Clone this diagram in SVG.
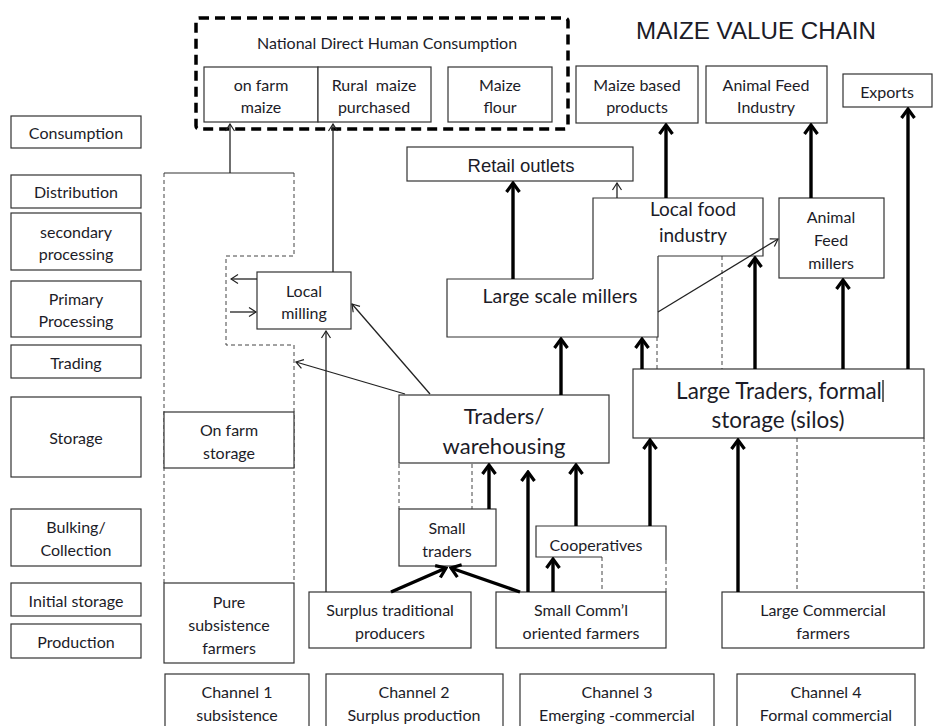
<svg xmlns="http://www.w3.org/2000/svg" width="938" height="726" viewBox="0 0 938 726">
  <style>
    .box { fill: #fff; stroke: #333; stroke-width: 1.2; }
    .edge { fill: none; stroke: #333; stroke-width: 1.2; }
    .dash { fill: none; stroke: #444; stroke-width: 1; stroke-dasharray: 4 3; }
    .t { font-family: Lato, "Open Sans", sans-serif; font-size: 16px; fill: #1c1c28; text-anchor: middle; dominant-baseline: central; }
    .t19 { font-size: 19px; }
    .t195 { font-size: 19.5px; }
    .t22 { font-size: 22px; }
    .t225 { font-size: 22.5px; }
    .thick { fill: none; stroke: #000; stroke-width: 3.4; marker-end: url(#ah-thick); }
    .thin { fill: none; stroke: #222; stroke-width: 1.3; marker-end: url(#ah-thin); }
  </style>
  <defs>
    <marker id="ah-thick" viewBox="-12 -9 14 18" refX="0" refY="0" markerWidth="14" markerHeight="18" orient="auto" markerUnits="userSpaceOnUse">
      <path d="M-9,-6.5 L0,0 L-9,6.5" fill="none" stroke="#000" stroke-width="3.2"/>
    </marker>
    <marker id="ah-thin" viewBox="-9 -6 10 12" refX="0" refY="0" markerWidth="10" markerHeight="12" orient="auto" markerUnits="userSpaceOnUse">
      <path d="M-7,-4.5 L0,0 L-7,4.5" fill="none" stroke="#222" stroke-width="1.2"/>
    </marker>
  </defs>

  <rect width="938" height="726" fill="#fff"/>

  <!-- stage labels -->
  <g id="stages">
    <g id="stage-consumption"><rect class="box" x="11" y="116" width="130" height="32"/><text class="t" x="76" y="132">Consumption</text></g>
    <g id="stage-distribution"><rect class="box" x="11" y="175" width="130" height="33"/><text class="t" x="76" y="191">Distribution</text></g>
    <g id="stage-secondary"><rect class="box" x="11" y="213" width="130" height="57"/><text class="t" x="76" y="231">secondary</text><text class="t" x="76" y="253">processing</text></g>
    <g id="stage-primary"><rect class="box" x="11" y="281" width="130" height="56"/><text class="t" x="76" y="298">Primary</text><text class="t" x="76" y="320">Processing</text></g>
    <g id="stage-trading"><rect class="box" x="11" y="345" width="130" height="33"/><text class="t" x="76" y="362">Trading</text></g>
    <g id="stage-storage"><rect class="box" x="11" y="397" width="130" height="80"/><text class="t" x="76" y="437">Storage</text></g>
    <g id="stage-bulking"><rect class="box" x="11" y="509" width="130" height="57"/><text class="t" x="76" y="526">Bulking/</text><text class="t" x="76" y="549">Collection</text></g>
    <g id="stage-initial"><rect class="box" x="11" y="583" width="130" height="33"/><text class="t" x="76" y="600">Initial storage</text></g>
    <g id="stage-production"><rect class="box" x="11" y="624" width="130" height="34"/><text class="t" x="76" y="641">Production</text></g>
  </g>

  <!-- title -->
  <text x="756" y="31" font-family="'Liberation Sans', Arial, sans-serif" font-size="23.5" fill="#1c1c28" text-anchor="middle" dominant-baseline="central" textLength="240" lengthAdjust="spacingAndGlyphs">MAIZE VALUE CHAIN</text>

  <!-- channel 1 outline (subsistence) -->
  <g id="channel1-outline">
    <path class="dash" d="M164,173 V583"/>
    <path class="dash" d="M294,173 V256 H226 V345 H294 V583"/>
    <path class="edge" d="M164,173 H294"/>
  </g>

  <!-- dashed links between stacked boxes -->
  <g id="dashed-links">
    <path class="dash" d="M399,464 V509 M472,464 V509"/>
    <path class="dash" d="M602,557 V592 M666,560 V592"/>
    <path class="dash" d="M657,337 V369 M722,256 V369"/>
    <path class="dash" d="M797,438 V592 M924,438 V592"/>
  </g>

  <!-- consumption block -->
  <g id="national-consumption">
    <rect x="196" y="18" width="372" height="111" rx="3" fill="none" stroke="#000" stroke-width="3.5" stroke-dasharray="10 6"/>
    <text class="t" x="387" y="42">National Direct Human Consumption</text>
  </g>
  <g id="on-farm-maize"><rect class="box" x="204" y="67" width="114" height="55"/><text class="t" x="261" y="84">on farm</text><text class="t" x="261" y="106">maize</text></g>
  <g id="rural-maize"><rect class="box" x="318" y="67" width="113" height="55"/><text class="t" x="374" y="84" xml:space="preserve">Rural  maize</text><text class="t" x="374" y="106">purchased</text></g>
  <g id="maize-flour"><rect class="box" x="448" y="67" width="104" height="55"/><text class="t" x="500" y="84">Maize</text><text class="t" x="500" y="106">flour</text></g>
  <g id="maize-products"><rect class="box" x="576" y="66" width="122" height="57"/><text class="t" x="637" y="84">Maize based</text><text class="t" x="637" y="106">products</text></g>
  <g id="animal-feed-industry"><rect class="box" x="706" y="66" width="121" height="57"/><text class="t" x="766" y="84">Animal Feed</text><text class="t" x="766" y="106">Industry</text></g>
  <g id="exports"><rect class="box" x="843" y="74" width="89" height="33"/><text class="t" x="887" y="91">Exports</text></g>

  <!-- processing -->
  <g id="retail-outlets"><rect class="box" x="407" y="147" width="226" height="34"/><text x="521" y="165" font-family="'Liberation Sans', Arial, sans-serif" font-size="18.5" fill="#1c1c28" text-anchor="middle" dominant-baseline="central">Retail outlets</text></g>
  <g id="local-food-industry">
    <path d="M593,279 V198 H763 V256 H658 V279 Z" fill="#fff"/>
    <path class="edge" d="M593,279 V198 H763 V256 H658"/>
    <text class="t t19" x="693" y="208">Local food</text>
    <text class="t t19" x="693" y="234">industry</text>
  </g>
  <g id="large-scale-millers">
    <path class="edge" d="M593,279 H447 V337 H658 V256"/>
    <text class="t t195" x="560" y="295">Large scale millers</text>
  </g>
  <g id="animal-feed-millers"><rect class="box" x="779" y="198" width="105" height="80"/><text class="t" x="831" y="216">Animal</text><text class="t" x="831" y="239">Feed</text><text class="t" x="831" y="262">millers</text></g>
  <g id="local-milling"><rect class="box" x="257" y="272" width="94" height="57"/><text class="t" x="304" y="290">Local</text><text class="t" x="304" y="312">milling</text></g>

  <!-- storage / trading -->
  <g id="large-traders">
    <rect class="box" x="633" y="369" width="291" height="69"/>
    <text class="t t225" x="779" y="390">Large Traders, formal</text>
    <text class="t t225" x="778" y="419">storage (silos)</text>
    <line x1="883" y1="380" x2="883" y2="402" stroke="#000" stroke-width="1.2"/>
  </g>
  <g id="traders-warehousing"><rect class="box" x="399" y="395" width="210" height="68"/><text class="t t22" x="504" y="415">Traders/</text><text class="t t22" x="504" y="445">warehousing</text></g>
  <g id="on-farm-storage"><rect class="box" x="164" y="412" width="130" height="56"/><text class="t" x="229" y="429">On farm</text><text class="t" x="229" y="452">storage</text></g>
  <g id="small-traders"><rect class="box" x="399" y="509" width="97" height="57"/><text class="t" x="447" y="527">Small</text><text class="t" x="447" y="550">traders</text></g>
  <g id="cooperatives">
    <path class="edge" d="M602,557 H536 V526 H666 V560"/>
    <text class="t" x="596" y="544">Cooperatives</text>
  </g>

  <!-- producers -->
  <g id="pure-subsistence"><rect class="box" x="164" y="583" width="130" height="80"/><text class="t" x="229" y="601">Pure</text><text class="t" x="229" y="624">subsistence</text><text class="t" x="229" y="647">farmers</text></g>
  <g id="surplus-traditional"><rect class="box" x="309" y="592" width="162" height="56"/><text class="t" x="390" y="609">Surplus traditional</text><text class="t" x="390" y="632">producers</text></g>
  <g id="small-commercial"><rect class="box" x="496" y="592" width="170" height="56"/><text class="t" x="581" y="609">Small Comm’l</text><text class="t" x="581" y="632">oriented farmers</text></g>
  <g id="large-commercial"><rect class="box" x="722" y="592" width="202" height="56"/><text class="t" x="823" y="609">Large Commercial</text><text class="t" x="823" y="632">farmers</text></g>

  <!-- channels -->
  <g id="channel-1"><rect class="box" x="165" y="674" width="144" height="60"/><text class="t" x="237" y="691">Channel 1</text><text class="t" x="237" y="714">subsistence</text></g>
  <g id="channel-2"><rect class="box" x="326" y="674" width="177" height="60"/><text class="t" x="414" y="691">Channel 2</text><text class="t" x="414" y="714">Surplus production</text></g>
  <g id="channel-3"><rect class="box" x="520" y="674" width="194" height="60"/><text class="t" x="617" y="691">Channel 3</text><text class="t" x="617" y="714">Emerging -commercial</text></g>
  <g id="channel-4"><rect class="box" x="737" y="674" width="178" height="60"/><text class="t" x="826" y="691">Channel 4</text><text class="t" x="826" y="714">Formal commercial</text></g>

  <!-- flows -->
  <g id="connectors">
    <path class="thick" d="M513,279 V183"/>
    <path class="thick" d="M666,198 V125"/>
    <path class="thick" d="M811,198 V125"/>
    <path class="thick" d="M908,369 V109"/>
    <path class="thick" d="M843,369 V280"/>
    <path class="thick" d="M755,369 V258"/>
    <path class="thick" d="M642,369 V339"/>
    <path class="thick" d="M561,395 V339"/>
    <path class="thick" d="M489,509 V465"/>
    <path class="thick" d="M528,592 V472"/>
    <path class="thick" d="M576,526 V465"/>
    <path class="thick" d="M553,592 V559"/>
    <path class="thick" d="M650,526 V440"/>
    <path class="thick" d="M738,592 V440"/>
    <path class="thick" d="M391,592 L446,568"/>
    <path class="thick" d="M520,592 L451,568"/>

    <path class="thin" d="M230,173 V124"/>
    <path class="thin" d="M333,272 V124"/>
    <path class="thin" d="M326,592 V331"/>
    <path class="thin" d="M257,279 H231"/>
    <path class="thin" d="M230,312 H256"/>
    <path class="thin" d="M430,394 L352,304"/>
    <path class="thin" d="M405,394 L296,362"/>
    <path class="thin" d="M658,312 L778,239"/>
    <path class="thin" d="M617,198 V183"/>
  </g>
</svg>
